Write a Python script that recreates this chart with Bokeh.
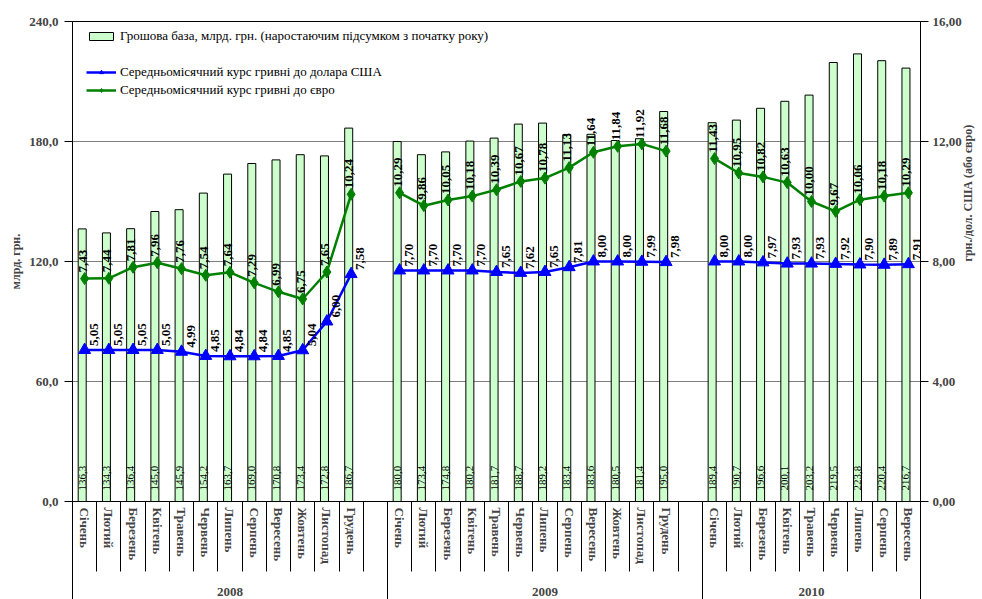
import math
import numpy as np
from bokeh.plotting import figure
from bokeh.models import (Range1d, LinearAxis, FixedTicker, Legend, LegendItem,
                          ColumnDataSource, Grid)
from bokeh.core.properties import value
from bokeh.embed import file_html
from bokeh.resources import INLINE

# ---------------- data ----------------
years = ["2008", "2009", "2010"]
months = ["Січень", "Лютий", "Березень", "Квітень", "Травень", "Червень",
          "Липень", "Серпень", "Вересень", "Жовтень", "Листопад", "Грудень"]

base_2008 = [136.3, 134.3, 136.4, 145.0, 145.9, 154.2, 163.7, 169.0, 170.8, 173.4, 172.8, 186.7]
base_2009 = [180.0, 173.4, 174.8, 180.2, 181.7, 188.7, 189.2, 183.4, 183.6, 180.5, 181.4, 195.0]
base_2010 = [189.4, 190.7, 196.6, 200.1, 203.2, 219.5, 223.8, 220.4, 216.7]

usd_2008 = [5.05, 5.05, 5.05, 5.05, 4.99, 4.85, 4.84, 4.84, 4.85, 5.04, 6.00, 7.58]
usd_2009 = [7.70, 7.70, 7.70, 7.70, 7.65, 7.62, 7.65, 7.81, 8.00, 8.00, 7.99, 7.98]
usd_2010 = [8.00, 8.00, 7.97, 7.93, 7.93, 7.92, 7.90, 7.89, 7.91]

eur_2008 = [7.43, 7.44, 7.81, 7.96, 7.76, 7.54, 7.64, 7.29, 6.99, 6.75, 7.65, 10.24]
eur_2009 = [10.29, 9.86, 10.05, 10.18, 10.39, 10.67, 10.78, 11.13, 11.64, 11.84, 11.92, 11.68]
eur_2010 = [11.43, 10.95, 10.82, 10.63, 10.00, 9.67, 10.06, 10.18, 10.29]

left_ticks = [0, 60, 120, 180, 240]
right_ticks = [0, 4, 8, 12, 16]

legend_labels = ["Грошова база, млрд. грн. (наростаючим підсумком з початку року)",
                 "Середньомісячний курс гривні до долара США",
                 "Середньомісячний курс гривні до євро"]
left_title = "млрд. грн."
right_title = "грн./дол. США (або євро)"

# ---------------- layout of slots ----------------
bases = [base_2008, base_2009, base_2010]
usds = [usd_2008, usd_2009, usd_2010]
eurs = [eur_2008, eur_2009, eur_2010]

mx, mname, mbase, musd, meur = [], [], [], [], []
lx, lusd, leur = [], [], []
year_centers, year_bounds = [], [-0.5]
slot = 0
for yi, yr in enumerate(years):
    start = slot
    for i, b in enumerate(bases[yi]):
        mx.append(slot); mname.append(months[i]); mbase.append(b)
        musd.append(usds[yi][i]); meur.append(eurs[yi][i])
        lx.append(slot); lusd.append(usds[yi][i]); leur.append(eurs[yi][i])
        slot += 1
    if yi < len(years) - 1:
        lx.append(slot); lusd.append(np.nan); leur.append(np.nan)
        slot += 1
    year_centers.append((start + slot - 1) / 2)
    year_bounds.append(slot - 0.5)
n_slots = slot
slot_bounds = [k - 0.5 for k in range(n_slots + 1)]

def fmt(v, d):
    return f"{v:.{d}f}".replace(".", ",")

msrc = ColumnDataSource(dict(
    x=mx, xb=[v - 0.1 for v in mx], base=mbase, usd=musd, eur=meur,
    zero=[0] * len(mx),
    blab=[fmt(v, 1) for v in mbase],
    ulab=[fmt(v, 2) for v in musd],
    elab=[fmt(v, 2) for v in meur],
))
lsrc = ColumnDataSource(dict(x=lx, usd=lusd, eur=leur))

FONT = "Liberation Serif"

# ---------------- figure ----------------
p = figure(frame_width=848, frame_height=480,
           x_range=Range1d(-0.5, n_slots - 0.5), y_range=Range1d(left_ticks[0], left_ticks[-1]),
           x_axis_location=None, y_axis_location=None,
           output_backend="svg", toolbar_location=None,
           min_border_left=72, min_border_right=62, min_border_top=21, min_border_bottom=98)
p.extra_y_ranges = {"rate": Range1d(right_ticks[0], right_ticks[-1])}
p.grid.visible = False
p.outline_line_color = "black"
p.outline_line_width = 1
p.background_fill_color = "white"
p.border_fill_color = "white"

p.add_layout(Grid(dimension=1, ticker=FixedTicker(ticks=left_ticks[1:-1]),
                  grid_line_color="#7f7f7f", grid_line_width=1), "center")

has_orient = "axis_label_orientation" in LinearAxis.properties()

# left axis
la = LinearAxis(ticker=FixedTicker(ticks=left_ticks),
                major_label_overrides={t: fmt(t, 1) for t in left_ticks},
                axis_label=left_title)
# right axis
ra = LinearAxis(y_range_name="rate", ticker=FixedTicker(ticks=right_ticks),
                major_label_overrides={t: fmt(t, 2) for t in right_ticks},
                axis_label=right_title)
for ax in (la, ra):
    ax.major_tick_out = 8
    ax.major_tick_in = 0
    ax.minor_tick_out = 0
    ax.major_label_standoff = 4
    ax.axis_label_standoff = 3
    ax.major_label_text_font = FONT
    ax.major_label_text_font_style = "bold"
    ax.major_label_text_font_size = "13px"
    ax.axis_label_text_font = FONT
    ax.axis_label_text_font_style = "bold"
    ax.axis_label_text_font_size = "12px"
    ax.axis_line_color = "black"
    ax.major_tick_line_color = "black"
la.major_label_standoff = 6
if has_orient:
    ra.axis_label_orientation = math.pi / 2
p.add_layout(la, "left")
p.add_layout(ra, "right")

# month axis (minor ticks act as cell separators)
xa = LinearAxis(ticker=FixedTicker(ticks=mx, minor_ticks=slot_bounds),
                major_label_overrides={x: n for x, n in zip(mx, mname)},
                major_label_orientation="vertical")
xa.major_tick_out = 0
xa.major_tick_in = 0
xa.minor_tick_out = 70
xa.minor_tick_in = 0
xa.minor_tick_line_color = "black"
xa.axis_line_color = "black"
xa.major_label_standoff = -64
xa.major_label_text_font = FONT
xa.major_label_text_font_style = "bold"
xa.major_label_text_font_size = "13px"
p.add_layout(xa, "below")

# year axis
ya = LinearAxis(ticker=FixedTicker(ticks=year_centers, minor_ticks=year_bounds),
                major_label_overrides={c: y for c, y in zip(year_centers, years)})
ya.axis_line_color = None
ya.major_tick_out = 0
ya.major_tick_in = 0
ya.minor_tick_out = 40
ya.minor_tick_in = 30
ya.minor_tick_line_color = "black"
ya.major_label_standoff = -19
ya.major_label_text_font = FONT
ya.major_label_text_font_style = "bold"
ya.major_label_text_font_size = "13px"
p.add_layout(ya, "below")

# ---------------- glyphs ----------------
bars = p.vbar(x="xb", top="base", width=0.33, source=msrc,
              fill_color="#ccffcc", line_color="black", line_width=1)
p.text(x="xb", y="zero", text="blab", source=msrc, angle=math.pi / 2,
       text_align="left", text_baseline="middle", y_offset=-11,
       text_font=value(FONT), text_font_size="11px", text_color="black")

uline = p.line(x="x", y="usd", source=lsrc, y_range_name="rate",
               line_color="#0000ff", line_width=2.5)
umark = p.scatter(x="x", y="usd", source=msrc, y_range_name="rate", marker="triangle",
                  size=12, fill_color="#0000ff", line_color="#0000ff")
eline = p.line(x="x", y="eur", source=lsrc, y_range_name="rate",
               line_color="#008000", line_width=2.5)
emark = p.scatter(x="x", y="eur", source=msrc, y_range_name="rate", marker="diamond",
                  size=12, fill_color="#008000", line_color="#008000")

p.text(x="x", y="usd", text="ulab", source=msrc, y_range_name="rate", angle=math.pi / 2,
       text_align="left", text_baseline="middle", x_offset=9, y_offset=-4,
       text_font=value(FONT), text_font_style="bold", text_font_size="13px", text_color="black")
p.text(x="x", y="eur", text="elab", source=msrc, y_range_name="rate", angle=math.pi / 2,
       text_align="left", text_baseline="middle", x_offset=-2, y_offset=-6,
       text_font=value(FONT), text_font_style="bold", text_font_size="13px", text_color="black")

dummy = p.line(x=[np.nan], y=[np.nan], line_alpha=0)

legend = Legend(items=[
    LegendItem(label=legend_labels[0], renderers=[bars]),
    LegendItem(label=" ", renderers=[dummy]),
    LegendItem(label=legend_labels[1], renderers=[uline, umark]),
    LegendItem(label=legend_labels[2], renderers=[eline, emark]),
], location=(14, 403))
legend.padding = 4
legend.spacing = 2
legend.label_height = 16
legend.glyph_height = 10
legend.glyph_width = 30
legend.label_standoff = 4
legend.margin = 0
legend.border_line_color = None
legend.background_fill_alpha = 0
legend.label_text_font = FONT
legend.label_text_font_size = "13px"
legend.label_text_color = "black"
p.add_layout(legend, "center")

open("out.html", "w").write(file_html(p, INLINE))
